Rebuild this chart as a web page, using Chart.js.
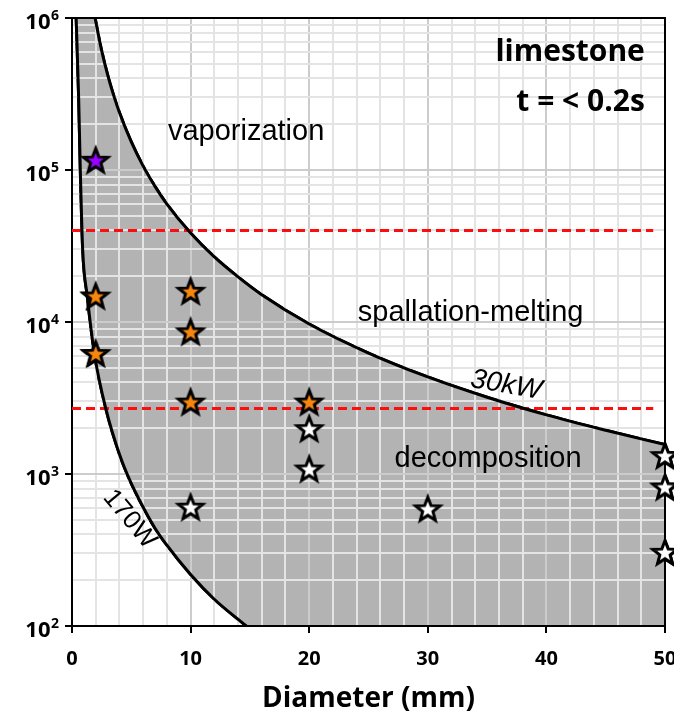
<!DOCTYPE html>
<html><head><meta charset="utf-8">
<script src="https://cdn.jsdelivr.net/npm/chart.js@4/dist/chart.umd.min.js"></script>
<style>
html,body{margin:0;padding:0;overflow:hidden;background:#fff;width:674px;height:717px}
#wrap{position:absolute;left:0;top:0;width:700px;height:717px}
</style>
</head><body><div id="wrap"><canvas id="c" width="700" height="717"></canvas></div>
<script>
// ---- data ----
const xMajorTicks = [0, 10, 20, 30, 40, 50];
const xTickLabels = ['0', '10', '20', '30', '40', '50'];
const yMajorTicks = [1e2, 1e3, 1e4, 1e5, 1e6];
const yTickBase = ['10', '10', '10', '10', '10'];
const yTickExp = ['2', '3', '4', '5', '6'];

// 30 kW iso-power curve (diameter mm, power density)
const curve30kW_d = [1.95, 2.2, 2.5, 3, 3.5, 4, 5, 6, 7, 8, 10, 12, 14, 16, 20, 25, 30, 35, 40, 45, 50];
const curve30kW_p = [1000000, 790000, 610000, 424000, 312000, 239000, 153000, 106000, 78000, 59700, 38500, 26800, 19800, 15100, 9700, 6250, 4350, 3200, 2450, 1940, 1560];
// 170 W iso-power curve
const curve170W_d = [0.35, 0.56, 0.7, 0.9, 1.29, 1.9, 2.9, 4.0, 4.9, 5.7, 7, 8, 10, 12, 14.7];
const curve170W_p = [1000000, 300000, 100000, 30000, 14700, 6100, 2600, 1350, 900, 670, 440, 340, 218, 150, 100];

// threshold lines
const thresholds = [40000, 2700];
const thresholdRange = [0, 49];

// experiments
const purple_d = [2];
const purple_p = [115000];
const orange_d = [2, 2, 10, 10, 10, 20];
const orange_p = [14700, 6150, 15800, 8550, 2950, 2950];
const white_d = [10, 20, 20, 30, 50, 50, 50];
const white_p = [600, 1970, 1070, 585, 1310, 815, 303];

// ---- helpers ----
const pts = (xs, ys) => xs.map((v, i) => ({x: v, y: ys[i]}));
const regionPoly = pts(curve30kW_d, curve30kW_p)
  .concat([{x: 50, y: 100}])
  .concat(pts(curve170W_d, curve170W_p).reverse());

function starImage(fill) {
  const c = document.createElement('canvas');
  c.width = 34; c.height = 34;
  const g = c.getContext('2d');
  const R = 12.8, r = 5.4, cx = 17, cy = 17.5;
  g.beginPath();
  for (let k = 0; k < 10; k++) {
    const ang = -Math.PI / 2 + k * Math.PI / 5;
    const rad = k % 2 === 0 ? R : r;
    const px = cx + rad * Math.cos(ang), py = cy + rad * Math.sin(ang);
    k === 0 ? g.moveTo(px, py) : g.lineTo(px, py);
  }
  g.closePath();
  g.fillStyle = fill; g.fill();
  g.lineWidth = 3; g.lineJoin = 'miter'; g.strokeStyle = '#000'; g.stroke();
  return c;
}

const isMajorX = v => Math.abs(v % 10) < 1e-9;
const isDecade = v => Math.abs(Math.log10(v) - Math.round(Math.log10(v))) < 1e-9;

const datasets = [
  {label: 'region', data: regionPoly, showLine: true, fill: 'shape', backgroundColor: '#b3b3b3',
   borderWidth: 0, pointRadius: 0, tension: 0},
  ...thresholds.map(t => ({label: 'th', data: [{x: thresholdRange[0], y: t}, {x: thresholdRange[1], y: t}],
   showLine: true, borderColor: '#ff0d0d', borderWidth: 3, borderDash: [9, 5], pointRadius: 0, fill: false, clipArea: true})),
  {label: '30kW', data: pts(curve30kW_d, curve30kW_p), showLine: true, borderColor: '#000', borderWidth: 3,
   pointRadius: 0, fill: false, cubicInterpolationMode: 'monotone', clipArea: true},
  {label: '170W', data: pts(curve170W_d, curve170W_p), showLine: true, borderColor: '#000', borderWidth: 3,
   pointRadius: 0, fill: false, cubicInterpolationMode: 'monotone', clipArea: true},
  {label: 'white', data: pts(white_d, white_p), showLine: false, pointStyle: starImage('#ffffff'), pointRadius: 15, clip: false},
  {label: 'orange', data: pts(orange_d, orange_p), showLine: false, pointStyle: starImage('#f7860e'), pointRadius: 15, clip: false},
  {label: 'purple', data: pts(purple_d, purple_p), showLine: false, pointStyle: starImage('#9a00ff'), pointRadius: 15, clip: false},
];

const annotations = [
  {text: 'vaporization', x: 8.09, y: 1.57e5, font: '29px "Liberation Sans"', align: 'left', base: 'alphabetic', rot: 0},
  {text: 'spallation-melting', x: 24.1, y: 1.02e4, font: '29px "Liberation Sans"', align: 'left', base: 'alphabetic', rot: 0},
  {text: 'decomposition', x: 27.2, y: 1120, font: '29px "Liberation Sans"', align: 'left', base: 'alphabetic', rot: 0},
  {text: 'limestone', x: 48.3, y: 5.2e5, font: 'bold 30px "Open Sans"', align: 'right', base: 'alphabetic', rot: 0},
  {text: 't = < 0.2s', x: 48.3, y: 2.43e5, font: 'bold 30px "Open Sans"', align: 'right', base: 'alphabetic', rot: 0},
  {text: '30kW', x: 36.6, y: 3840, font: 'italic 28px "Liberation Sans"', align: 'center', base: 'middle', rot: 10},
  {text: '170W', x: 4.85, y: 505, font: '26px "Liberation Sans"', align: 'center', base: 'middle', rot: 50},
];

const overlay = {
  id: 'overlay',
  afterDraw(chart) {
    const {ctx, chartArea: a, scales: {x, y}} = chart;
    // frame top & right
    ctx.save();
    ctx.strokeStyle = '#000'; ctx.lineWidth = 2;
    ctx.beginPath(); ctx.moveTo(a.left, a.top); ctx.lineTo(a.right, a.top); ctx.lineTo(a.right, a.bottom); ctx.stroke();
    ctx.restore();
    // redraw marks above the grid
    chart.data.datasets.forEach((ds, i) => {
      if (i === 0) return;
      const meta = chart.getDatasetMeta(i);
      ctx.save();
      if (ds.clipArea) { ctx.beginPath(); ctx.rect(a.left, a.top, a.right - a.left, a.bottom - a.top); ctx.clip(); }
      meta.controller.draw();
      ctx.restore();
    });
    // y tick labels with exponents
    ctx.save();
    ctx.fillStyle = '#000'; ctx.textBaseline = 'alphabetic'; ctx.textAlign = 'left';
    yMajorTicks.forEach((v, i) => {
      const py = y.getPixelForValue(v);
      ctx.font = 'bold 14px "Open Sans"';
      const we = ctx.measureText(yTickExp[i]).width;
      ctx.font = 'bold 22px "Open Sans"';
      const wb = ctx.measureText(yTickBase[i]).width;
      const right = a.left - 13;
      const left = right - we - wb - 0.5;
      ctx.fillText(yTickBase[i], left, py + 11);
      ctx.font = 'bold 14px "Open Sans"';
      ctx.fillText(yTickExp[i], left + wb + 0.5, py + 2);
    });
    // annotations
    annotations.forEach(t => {
      const px = x.getPixelForValue(t.x), py = y.getPixelForValue(t.y);
      ctx.save();
      ctx.translate(px, py); ctx.rotate(t.rot * Math.PI / 180);
      ctx.font = t.font; ctx.textAlign = t.align; ctx.textBaseline = t.base; ctx.fillStyle = '#000';
      ctx.fillText(t.text, 0, 0);
      ctx.restore();
    });
    ctx.restore();
  }
};

new Chart(document.getElementById('c'), {
  type: 'scatter',
  data: {datasets},
  options: {
    responsive: false, animation: false, devicePixelRatio: 1,
    layout: {padding: {left: 0, right: 35, top: 18, bottom: 0}},
    plugins: {legend: {display: false}, tooltip: {enabled: false}},
    elements: {line: {tension: 0}},
    scales: {
      x: {
        type: 'linear', min: 0, max: 50,
        afterBuildTicks: ax => { const t = []; for (let v = 0; v <= 50; v += 2) t.push({value: v}); ax.ticks = t; },
        afterFit: ax => { ax.height = 91; },
        ticks: {autoSkip: false, maxRotation: 0, padding: 14, color: '#000',
          font: {family: 'Open Sans', weight: 'bold', size: 20},
          callback: v => { const i = xMajorTicks.indexOf(v); return i >= 0 ? xTickLabels[i] : ''; }},
        grid: {z: 1, lineWidth: 2, tickLength: 7, tickWidth: 2,
          color: c => (c.tick && isMajorX(c.tick.value)) ? '#cccccc' : '#e4e4e4',
          tickColor: c => (c.tick && isMajorX(c.tick.value)) ? '#000' : 'rgba(0,0,0,0)'},
        border: {z: 2, color: '#000', width: 2},
        title: {display: true, text: 'Diameter (mm)', color: '#000',
          font: {family: 'Open Sans', weight: 'bold', size: 28}, padding: {top: 0, bottom: 1}}
      },
      y: {
        type: 'logarithmic', min: 100, max: 1e6,
        afterBuildTicks: ax => { const t = []; for (let e = 2; e < 6; e++) for (let m = 1; m < 10; m++) t.push({value: m * Math.pow(10, e)}); t.push({value: 1e6}); ax.ticks = t; },
        afterFit: ax => { ax.width = 72; },
        ticks: {autoSkip: false, callback: () => ''},
        grid: {z: 1, lineWidth: 2, tickLength: 7, tickWidth: 2,
          color: c => (c.tick && isDecade(c.tick.value)) ? '#cccccc' : '#e4e4e4',
          tickColor: c => (c.tick && isDecade(c.tick.value)) ? '#000' : 'rgba(0,0,0,0)'},
        border: {z: 2, color: '#000', width: 2}
      }
    }
  },
  plugins: [overlay]
});
</script></body></html>
